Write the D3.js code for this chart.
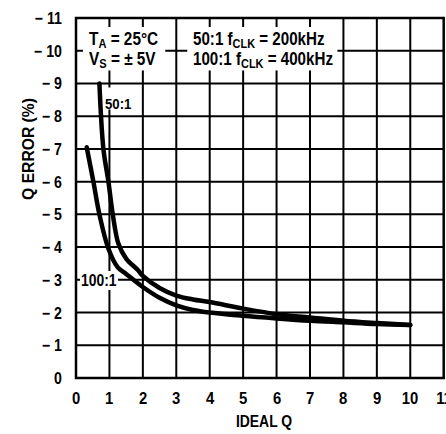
<!DOCTYPE html>
<html>
<head>
<meta charset="utf-8">
<script src="https://cdn.jsdelivr.net/npm/d3@7"></script>
<style>
  html, body { margin: 0; padding: 0; background: #fff; }
  svg { display: block; }
  text { font-family: "Liberation Sans Narrow", "Arial Narrow", "Liberation Sans", Arial, sans-serif; font-weight: bold; fill: #000; }
</style>
</head>
<body>
<div id="chart"></div>
<script>
// tick labels
const xTickValues = [0, 1, 2, 3, 4, 5, 6, 7, 8, 9, 10, 11];
const yTickValues = [0, -1, -2, -3, -4, -5, -6, -7, -8, -9, -10, -11];

// 50:1, fCLK = 200kHz
const q50 = [0.7, 0.82, 0.97, 1.1, 1.27, 1.5, 1.85, 2.0, 2.5, 3.0, 3.5, 4.0, 5.0, 6.0, 7.0, 8.0, 9.0, 10.0];
const err50 = [-9.0, -7.0, -6.0, -5.0, -4.1, -3.65, -3.3, -3.12, -2.75, -2.52, -2.4, -2.32, -2.12, -1.95, -1.85, -1.75, -1.68, -1.62];

// 100:1, fCLK = 400kHz
const q100 = [0.32, 0.52, 0.7, 0.97, 1.25, 1.5, 2.0, 2.5, 3.0, 3.5, 4.0, 5.0, 6.0, 7.0, 8.0, 9.0, 10.0];
const err100 = [-7.05, -6.0, -5.0, -3.95, -3.38, -3.18, -2.78, -2.45, -2.22, -2.08, -2.0, -1.9, -1.82, -1.75, -1.7, -1.65, -1.62];

const width = 446, height = 434;
const svg = d3.select("#chart").append("svg").attr("width", width).attr("height", height);

const x = d3.scaleLinear().domain([0, 11]).range([76, 443.7]);
const y = d3.scaleLinear().domain([0, -11]).range([378, 18]);

// no narrow face installed, so the bold sans is squashed sideways
function label(px, py, size, squeeze, anchor, rotate) {
  return svg.append("text")
    .attr("transform", `translate(${Math.round(px)},${Math.round(py)})${rotate ? " rotate(-90)" : ""} scale(${squeeze},1)`)
    .attr("text-anchor", anchor || "start").attr("font-size", size);
}

// grid
const grid = svg.append("g").attr("stroke", "#000").attr("stroke-width", 2);
grid.selectAll("line.v").data(xTickValues.slice(1, -1)).enter().append("line")
  .attr("x1", d => x(d)).attr("x2", d => x(d)).attr("y1", y(0)).attr("y2", y(-11));
grid.selectAll("line.h").data(yTickValues.slice(1, -1)).enter().append("line")
  .attr("x1", x(0)).attr("x2", x(11)).attr("y1", d => y(d)).attr("y2", d => y(d));

// white patches behind the notes
const masks = [
  [x(0) + 7, y(-11) + 9, x(3) - 11 - (x(0) + 7), y(-9) - 13 - (y(-11) + 9)],
  [x(3) + 11, y(-11) + 9, x(8) - 6 - (x(3) + 11), y(-9) - 13 - (y(-11) + 9)],
  [103, y(-9) + 4, 32, 22],
  [80, 271, 38, 19]
];
svg.selectAll("rect.mask").data(masks).enter().append("rect")
  .attr("x", d => d[0]).attr("y", d => d[1]).attr("width", d => d[2]).attr("height", d => d[3])
  .attr("fill", "#fff");

// frame
svg.append("rect").attr("x", x(0)).attr("y", y(-11))
  .attr("width", x(11) - x(0)).attr("height", y(0) - y(-11))
  .attr("fill", "none").attr("stroke", "#000").attr("stroke-width", 2.5);

// curves
const line = d3.line().x(d => x(d[0])).y(d => y(d[1])).curve(d3.curveCatmullRom.alpha(0.5));
[[q50, err50], [q100, err100]].forEach(([qs, es]) => {
  svg.append("path").datum(qs.map((q, i) => [q, es[i]]))
    .attr("d", line).attr("fill", "none").attr("stroke", "#000")
    .attr("stroke-width", 4.5).attr("stroke-linecap", "round").attr("stroke-linejoin", "round");
});

// axis labels
yTickValues.forEach(d => {
  label(62, y(d) + 6, 16.5, 0.86, "end").text(d === 0 ? "0" : "\u2212 " + Math.abs(d));
});
xTickValues.forEach(d => {
  label(x(d), 404, 16.5, 0.9, "middle").text(d);
});
label(264, 427, 17, 0.82, "middle").text("IDEAL Q");
label(34, 149, 16.5, 0.95, "middle", true).text("Q ERROR (%)");

// notes
function note(px, py, size, squeeze, parts) {
  const t = label(px, py, size, squeeze);
  let low = false;
  parts.forEach(([s, sub]) => {
    const dy = sub ? (low ? 0 : 3) : (low ? -3 : 0);
    low = !!sub;
    t.append("tspan").attr("font-size", sub ? size * 0.72 : size).attr("dy", dy).text(s);
  });
}
note(89, 45, 18.5, 0.83, [["T"], ["A", true], [" = 25°C"]]);
note(89, 65, 18.5, 0.83, [["V"], ["S", true], [" = \u00b1 5V"]]);
note(193, 45, 18.5, 0.82, [["50:1 f"], ["CLK", true], [" = 200kHz"]]);
note(193, 65, 18.5, 0.82, [["100:1 f"], ["CLK", true], [" = 400kHz"]]);
note(105, 109, 15, 0.88, [["50:1"]]);
note(81, 286, 17, 0.82, [["100:1"]]);
</script>
</body>
</html>
